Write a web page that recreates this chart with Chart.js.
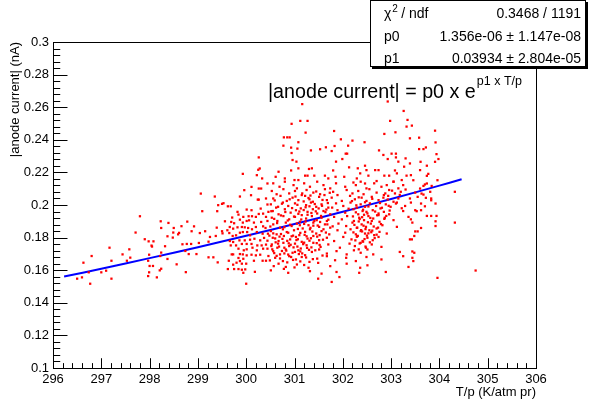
<!DOCTYPE html>
<html>
<head>
<meta charset="utf-8">
<script src="https://cdn.jsdelivr.net/npm/chart.js@4.4.0/dist/chart.umd.min.js"></script>
<style>
    html, body { margin: 0; padding: 0; background: #ffffff; }
    #wrap { width: 589px; height: 401px; position: relative; }
</style>
</head>
<body>
<div id="wrap"><canvas id="anodeChart"></canvas></div>
<script>
// axis ranges
const tpRange = [296, 306];
const currentRange = [0.1, 0.3];

// fitted curve |I| = p0 * exp(p1 * T/p), sampled along the drawn blue line
const fitT = [296.23, 297, 298, 299, 300, 301, 302, 303, 304, 304.46];
const fitI = [0.1561, 0.1609, 0.1674, 0.1741, 0.1811, 0.1883, 0.1959, 0.2037, 0.2119, 0.2158];

// stats box text
const statsRows = [
    ['χ2 / ndf', '0.3468 / 1191'],
    ['p0', '1.356e-06 ± 1.147e-08'],
    ['p1', '0.03934 ± 2.804e-05']
];
const fitLabel = '|anode current| = p0 x e';
const fitLabelSup = 'p1 x T/p';
const xTitle = 'T/p (K/atm pr)';
const yTitle = '|anode current| (nA)';

// measured points [T/p, |I|], sparse low T/p tail
const tailLow = [
    [297.80,.1931],[298.23,.1900],[298.39,.1890],[297.71,.1831],[298.50,.1859],[298.24,.1859],[298.49,.1831],
    [298.61,.1829],[298.59,.1820],[298.66,.1870],[298.37,.1808],[298.48,.1800],[297.90,.1790],[297.98,.1777],
    [298.08,.1777],[298.04,.1751],[298.05,.1745],[297.17,.1738],[297.58,.1728],[297.44,.1697],[297.99,.1695],
    [298.32,.1747],[298.68,.1759],[298.24,.1708],[298.22,.1687],[296.80,.1687],[297.60,.1677],[297.21,.1658],
    [297.53,.1658],[297.97,.1658],[298.37,.1669],[296.63,.1646],[298.56,.1636],[298.00,.1626],[298.07,.1626],
    [298.24,.1609],[298.21,.1599],[297.10,.1597],[297.00,.1587],[296.74,.1587],[297.99,.1587],[297.97,.1564],
    [298.15,.1556],[296.60,.1556],[296.50,.1548],[297.21,.1548],[296.77,.1517]
];

// 298.7 - 300.5
const band299 = [
    [300.26,.2292],[300.28,.2224],[300.25,.2216],[300.22,.2183],[300.33,.2163],[299.93,.2191],[300.44,.2132],
    [300.26,.2101],[300.31,.2101],[300.11,.2111],[299.96,.2091],[299.06,.2070],[299.35,.2052],[299.87,.2052],
    [300.10,.2060],[300.24,.2033],[300.26,.2033],[300.41,.2040],[299.53,.2011],[299.50,.2007],[299.42,.1999],
    [299.62,.1992],[299.68,.1992],[299.40,.1962],[299.09,.1962],[299.82,.1958],[300.01,.1972],[300.11,.1968],
    [300.30,.1978],[300.44,.2003],[300.46,.1958],[300.35,.1947],[300.26,.1945],[299.94,.1927],[300.05,.1931],
    [300.12,.1931],[300.20,.1927],[300.41,.1927],[299.84,.1941],[299.71,.1923],[299.56,.1900],[299.69,.1896],
    [299.75,.1888],[299.87,.1910],[299.93,.1892],[300.01,.1902],[300.06,.1906],[300.16,.1892],[300.31,.1896],
    [300.35,.1869],[300.44,.1902],[298.78,.1898],[298.92,.1869],[299.39,.1861],[299.50,.1839],[299.61,.1845],
    [299.66,.1865],[299.73,.1855],[299.82,.1863],[299.91,.1865],[299.97,.1863],[300.04,.1859],[300.12,.1851],
    [300.20,.1865],[300.40,.1859],[298.87,.1839],[299.04,.1828],[299.15,.1839],[299.25,.1804],[299.37,.1810],
    [299.51,.1826],[299.65,.1828],[299.72,.1810],[299.79,.1814],[299.87,.1830],[299.93,.1834],[300.02,.1834],
    [300.08,.1814],[300.22,.1834],[300.34,.1824],[300.45,.1824],[298.77,.1761],[298.86,.1761],[299.02,.1767],
    [299.22,.1775],[299.66,.1779],[299.73,.1773],[299.86,.1783],[299.97,.1783],[300.08,.1787],[300.17,.1793],
    [300.29,.1783],[300.37,.1798],[300.44,.1781],[299.68,.1752],[299.79,.1752],[299.91,.1761],[300.01,.1761],
    [300.11,.1761],[300.23,.1752],[300.32,.1752],[300.41,.1757],[298.74,.1718],[298.81,.1699],[298.97,.1699],
    [299.22,.1679],[299.32,.1679],[299.41,.1648],[299.64,.1658],[299.70,.1697],[299.73,.1697],[299.84,.1732],
    [299.87,.1699],[299.93,.1697],[299.95,.1722],[300.01,.1728],[300.13,.1738],[300.22,.1722],[300.35,.1732],
    [300.44,.1732],[299.84,.1675],[299.94,.1670],[300.01,.1691],[300.11,.1695],[300.20,.1691],[300.29,.1695],
    [300.46,.1687],[299.73,.1634],[299.80,.1646],[299.87,.1656],[299.91,.1640],[300.00,.1640],[300.16,.1658],
    [300.34,.1658],[300.41,.1658],[299.62,.1607],[299.75,.1607],[299.84,.1607],[299.91,.1603],[299.94,.1584],
    [299.98,.1605],[300.18,.1590],[298.75,.1588],[300.00,.1517]
];

// 300.5 - 301.9, upper outliers
const high301 = [
    [301.16,.2619],[301.12,.2516],[301.27,.2516],[300.94,.2498],[301.82,.2454],[301.23,.2444],[300.78,.2415],
    [300.85,.2415],[300.90,.2415],[301.08,.2385],[300.77,.2364],[300.93,.2352],[301.06,.2346],[301.34,.2335],
    [301.53,.2342],[301.65,.2354],[301.77,.2331],[301.83,.2362],[300.94,.2319],[300.96,.2276],[301.04,.2266],
    [301.86,.2266],[301.30,.2221],[301.36,.2225],[301.08,.2225],[300.93,.2212],[300.67,.2204],[301.80,.2212],
    [300.61,.2173],[301.22,.2180],[301.27,.2180],[301.41,.2180],[301.08,.2153],[300.80,.2163],[301.00,.2153],
    [301.63,.2180],[301.70,.2163],[301.85,.2173]
];

// 301.9 - 303.4, upper outliers
const high303 = [
    [302.93,.2635],[302.98,.2516],[303.26,.2577],[303.34,.2522],[303.32,.2481],[302.86,.2436],[303.09,.2446],
    [301.96,.2403],[302.20,.2395],[302.45,.2385],[302.11,.2364],[302.75,.2335],[302.06,.2315],[302.09,.2315],
    [302.84,.2307],[303.01,.2315],[303.10,.2315],[302.93,.2282],[303.10,.2292],[303.30,.2286],[301.99,.2282],
    [302.46,.2241],[302.13,.2231],[302.31,.2225],[302.49,.2214],[302.67,.2214],[302.74,.2214],[303.15,.2266],
    [303.08,.2212],[302.36,.2194],[302.53,.2180],[302.86,.2180],[302.96,.2180],[303.12,.2194],[303.27,.2235],
    [302.03,.2173],[302.29,.2163],[302.70,.2147],[302.46,.2132],[302.22,.2138],[303.05,.2143],[303.22,.2153],
    [303.32,.2180]
];

// 300.5 - 303.4 main body
const core = [
    [300.56,.2133],[300.69,.2112],[300.80,.2143],[300.98,.2122],[301.05,.2102],[301.20,.2133],[301.32,.2112],
    [301.47,.2143],[301.60,.2122],[301.74,.2102],[301.86,.2133],[302.05,.2112],[302.27,.2122],[302.37,.2143],
    [302.49,.2102],[302.65,.2133],[302.80,.2112],[302.91,.2122],[303.05,.2143],[303.15,.2102],[303.25,.2122],
    [300.53,.2086],[300.63,.2066],[300.77,.2097],[300.89,.2071],[301.01,.2086],[301.15,.2061],[301.25,.2092],
    [301.39,.2076],[301.53,.2066],[301.63,.2097],[301.80,.2081],[301.89,.2061],[302.08,.2092],[302.20,.2071],
    [302.32,.2086],[302.43,.2066],[302.55,.2097],[302.70,.2076],[302.85,.2061],[302.96,.2092],[303.08,.2071],
    [303.20,.2081],
    [300.56,.2040],[300.71,.2056],[300.84,.2025],[300.96,.2045],[301.08,.2030],[301.22,.2056],[301.31,.2035],
    [301.38,.2020],[301.51,.2050],[301.67,.2030],[301.77,.2045],[301.98,.2025],[302.15,.2056],[302.25,.2035],
    [302.39,.2045],[302.49,.2025],[302.60,.2050],[302.74,.2030],[302.84,.2045],[302.94,.2056],[303.05,.2020],
    [303.15,.2040],
    [300.51,.2004],[300.62,.1984],[300.76,.2015],[300.87,.1994],[301.01,.2010],[301.13,.1979],[301.24,.1999],
    [301.34,.2015],[301.45,.1989],[301.56,.2004],[301.70,.1984],[301.86,.2010],[302.01,.1994],[302.16,.2015],
    [302.29,.1984],[302.37,.2004],[302.46,.1989],[302.56,.2010],[302.69,.1994],[302.78,.1979],[302.89,.2004],
    [302.99,.1989],[303.12,.2015],[303.29,.1994],
    [300.55,.1963],[300.67,.1943],[300.80,.1974],[300.92,.1953],[301.03,.1968],[301.15,.1938],[301.27,.1958],
    [301.38,.1974],[301.47,.1948],[301.60,.1963],[301.74,.1943],[301.89,.1968],[302.05,.1953],[302.22,.1974],
    [302.32,.1943],[302.41,.1963],[302.51,.1948],[302.62,.1968],[302.74,.1938],[302.85,.1958],[302.96,.1943],
    [303.25,.1963],
    [300.53,.1922],[300.645,.1902],[300.77,.1932],[300.89,.1912],[301.01,.1927],[301.11,.1897],[301.24,.1917],
    [301.36,.1932],[301.46,.1907],[301.56,.1922],[301.67,.1902],[301.82,.1927],[301.98,.1912],[302.09,.1932],
    [302.23,.1902],[302.34,.1922],[302.44,.1907],[302.53,.1932],[302.63,.1917],[302.76,.1897],[302.87,.1922],
    [303.05,.1907],[303.36,.1927],
    [300.56,.1881],[300.70,.1861],[300.82,.1892],[300.94,.1871],[301.05,.1886],[301.17,.1856],[301.29,.1876],
    [301.39,.1892],[301.51,.1866],[301.63,.1881],[301.74,.1861],[301.91,.1886],[302.07,.1871],[302.20,.1892],
    [302.30,.1861],[302.39,.1881],[302.48,.1866],[302.58,.1886],[302.70,.1856],[302.82,.1876],[303.12,.1866],
    [300.51,.1840],[300.63,.1820],[300.76,.1851],[300.87,.1830],[300.99,.1845],[301.10,.1815],[301.22,.1835],
    [301.32,.1851],[301.45,.1825],[301.56,.1840],[301.72,.1820],[301.89,.1845],[302.05,.1830],[302.16,.1851],
    [302.27,.1820],[302.37,.1840],[302.46,.1825],[302.55,.1845],[302.65,.1815],[302.76,.1835],[302.91,.1825],
    [300.55,.1799],[300.67,.1779],[300.78,.1810],[300.91,.1789],[301.03,.1804],[301.15,.1774],[301.27,.1794],
    [301.39,.1810],[301.51,.1784],[301.67,.1799],[301.82,.1779],[302.01,.1804],[302.18,.1789],[302.30,.1810],
    [302.41,.1779],[302.51,.1799],[302.62,.1784],[302.74,.1804],[303.39,.1789],
    [300.53,.1758],[300.645,.1738],[300.77,.1768],[300.89,.1748],[301.01,.1763],[301.13,.1733],[301.25,.1753],
    [301.39,.1768],[301.54,.1743],[301.70,.1758],[301.94,.1738],[302.14,.1763],[302.25,.1748],[302.37,.1768],
    [302.48,.1738],[302.60,.1758],[302.80,.1743],
    [300.56,.1717],[300.70,.1697],[300.82,.1727],[300.96,.1707],[301.08,.1722],[301.22,.1692],[301.36,.1712],
    [301.51,.1727],[301.67,.1702],[301.87,.1717],[302.08,.1697],[302.23,.1722],[302.37,.1707],[302.51,.1727],
    [302.63,.1697],[303.18,.1712],
    [300.60,.1676],[300.76,.1656],[300.89,.1686],[301.03,.1666],[301.15,.1681],[301.31,.1651],[301.47,.1671],
    [301.67,.1686],[301.84,.1661],[302.07,.1676],[302.27,.1656],[302.49,.1681],[302.80,.1666],[303.25,.1686],
    [300.67,.1640],[300.82,.1620],[301.05,.1635],[301.29,.1615],[301.49,.1645],[301.74,.1625],[302.08,.1640],
    [302.36,.1615],[302.51,.1630],[303.36,.1620],
    [300.51,.1599],[300.87,.1584],[301.32,.1594],[301.56,.1579],[301.87,.1589],[302.34,.1584],[302.89,.1589],
    [301.49,.1548],[301.77,.1528],[301.93,.1558]
];

// crowded spots where dots overlap
const coreFill = [
    [300.59,.2028],[300.74,.2008],[300.90,.2035],[301.06,.2001],[301.19,.2022],[301.29,.2043],[301.42,.2006],
    [301.58,.2031],[301.69,.2012],[300.52,.1962],[300.66,.1989],[300.81,.1957],[300.95,.1981],[301.10,.1960],
    [301.23,.1986],[301.35,.1951],[301.50,.1979],[301.64,.1956],[301.78,.1984],[300.58,.1915],[300.72,.1936],
    [300.86,.1905],[300.99,.1929],[301.14,.1911],[301.27,.1940],[301.41,.1902],[301.55,.1933],[301.70,.1910],
    [300.50,.1868],[300.64,.1889],[300.79,.1864],[300.91,.1879],[301.07,.1853],[301.20,.1884],[301.33,.1860],
    [301.48,.1874],[301.60,.1851],[301.79,.1869],[300.56,.1826],[300.69,.1806],[300.84,.1834],[300.97,.1812],
    [301.12,.1829],[301.25,.1808],[301.37,.1837],[301.52,.1815],[301.65,.1831],[300.61,.1771],[300.75,.1792],
    [300.88,.1765],[301.04,.1785],[301.18,.1760],[301.31,.1781],[301.46,.1766],[301.59,.1787],[300.54,.1728],
    [300.68,.1745],[300.83,.1720],[300.98,.1740],[301.12,.1715],[301.26,.1737],[301.43,.1722],[300.63,.1688],
    [300.79,.1703],[300.93,.1681],[301.09,.1699],[301.24,.1678],
    [302.19,.2024],[302.33,.2047],[302.46,.2017],[302.61,.2038],[302.77,.2012],[302.93,.2034],[302.12,.1977],
    [302.28,.1998],[302.42,.1971],[302.53,.1991],[302.67,.1960],[302.81,.1983],[302.97,.1966],[302.21,.1930],
    [302.35,.1914],[302.44,.1940],[302.57,.1921],[302.71,.1937],[302.86,.1915],[302.24,.1878],[302.33,.1899],
    [302.43,.1873],[302.52,.1894],[302.64,.1868],[302.79,.1883],[302.22,.1832],[302.31,.1810],[302.40,.1838],
    [302.50,.1812],[302.59,.1833],[302.70,.1818],[302.26,.1783],[302.35,.1764],[302.45,.1791],[302.56,.1771],
    [302.33,.1728],[302.47,.1745]
];

// more of the crowded spots
const coreFill2 = [
    [300.48,.1812],[300.60,.1795],[300.72,.1822],[300.85,.1780],[300.94,.1808],[301.07,.1790],[301.21,.1817],
    [301.34,.1796],[301.47,.1806],[300.52,.1748],[300.66,.1763],[300.79,.1738],[300.92,.1756],[301.06,.1745],
    [301.20,.1769],[301.35,.1740],[301.52,.1755],[300.58,.1705],[300.74,.1718],[300.87,.1696],[301.01,.1712],
    [301.16,.1703],[301.30,.1725],[301.58,.1690],[300.49,.1660],[300.70,.1672],[300.85,.1648],[300.97,.1663],
    [301.12,.1654],[301.38,.1668],[300.57,.1625],[300.78,.1608],[301.00,.1617],[301.20,.1632],
    [301.02,.2052],[301.16,.2071],[301.33,.2058],[301.45,.2083],[301.62,.2061],[301.73,.2075],[301.08,.1946],
    [301.19,.1969],[301.31,.1992],[301.44,.1961],[301.57,.1995],[301.66,.1972],[301.11,.1876],[301.23,.1899],
    [301.39,.1873],[301.53,.1896],[301.68,.1881],
    [302.27,.1955],[302.40,.1925],[302.49,.1958],[302.60,.1902],[302.74,.1948],[302.90,.1933],[302.29,.1860],
    [302.38,.1846],[302.47,.1852],[302.61,.1843],[302.73,.1861],[302.29,.1805],[302.42,.1775],[302.53,.1826],
    [302.66,.1797],[302.88,.2071],[303.02,.2088],[303.18,.2062],[303.30,.2095],[302.95,.1995],[303.10,.2009],
    [303.22,.1980]
];

// above 303.4
const tailHigh = [
    [303.43,.2487],[303.91,.2456],[303.39,.2409],[303.58,.2413],[303.92,.2384],[303.58,.2343],[303.67,.2343],
    [303.72,.2353],[303.94,.2312],[303.98,.2282],[303.39,.2255],[303.61,.2265],[303.74,.2241],[303.91,.2265],
    [303.60,.2214],[303.77,.2191],[303.74,.2179],[303.41,.2183],[303.46,.2152],[303.96,.2152],[303.70,.2126],
    [303.74,.2132],[303.67,.2117],[303.60,.2101],[303.84,.2117],[304.32,.2081],[303.50,.2076],[303.63,.2070],
    [303.67,.2064],[303.81,.2081],[303.39,.2040],[303.55,.2050],[303.72,.2044],[303.83,.2040],[303.83,.2029],
    [303.41,.2015],[303.62,.2009],[303.70,.1992],[303.92,.2009],[303.50,.1968],[303.53,.1962],[303.62,.1968],
    [303.74,.1933],[303.83,.1933],[303.94,.1933],[303.41,.1912],[303.44,.1892],[303.62,.1859],[303.92,.1900],
    [303.92,.1871],[304.32,.1892],[303.50,.1838],[303.55,.1838],[303.48,.1810],[303.43,.1789],[303.44,.1715],
    [303.48,.1707],[303.44,.1676],[303.96,.1553],[304.75,.1598],[303.46,.1656]
];

function pairsToPoints(list) {
    return list.map(p => ({ x: p[0], y: p[1] }));
}

const measured = [].concat(
    pairsToPoints(tailLow), pairsToPoints(band299), pairsToPoints(high301),
    pairsToPoints(high303), pairsToPoints(core), pairsToPoints(coreFill),
    pairsToPoints(coreFill2), pairsToPoints(tailHigh)
);
const fitPoints = fitT.map((t, i) => ({ x: t, y: fitI[i] }));

const FONT = '"Liberation Sans", Arial, Helvetica, sans-serif';

// ROOT-like frame, inside ticks, titles, stats box and formula
const rootDecor = {
    id: 'rootDecor',
    afterDatasetsDraw(chart) {
        const ctx = chart.ctx;
        const a = chart.chartArea;
        const xs = chart.scales.x;
        const ys = chart.scales.y;
        ctx.save();
        ctx.strokeStyle = '#000';
        ctx.lineWidth = 1;
        ctx.strokeRect(Math.round(a.left) + 0.5, Math.round(a.top) + 0.5,
            Math.round(a.right - a.left), Math.round(a.bottom - a.top));

        const hLen = (a.bottom - a.top) * 0.03;
        const vLen = (a.right - a.left) * 0.03;
        ctx.beginPath();
        for (let i = 0; i <= 50; i++) {
            const v = tpRange[0] + i * 0.2;
            const px = Math.round(xs.getPixelForValue(v)) + 0.5;
            const len = i % 5 === 0 ? hLen : hLen / 2;
            ctx.moveTo(px, a.bottom);
            ctx.lineTo(px, a.bottom - len);
        }
        for (let i = 0; i <= 50; i++) {
            const v = currentRange[0] + i * 0.004;
            const py = Math.round(ys.getPixelForValue(v)) + 0.5;
            const len = i % 5 === 0 ? vLen : vLen / 2;
            ctx.moveTo(a.left, py);
            ctx.lineTo(a.left + len, py);
        }
        ctx.stroke();
        ctx.restore();
    },
    afterDraw(chart) {
        const ctx = chart.ctx;
        const a = chart.chartArea;
        ctx.save();
        ctx.fillStyle = '#000';

        // axis titles
        ctx.font = '13px ' + FONT;
        ctx.textAlign = 'right';
        ctx.textBaseline = 'alphabetic';
        ctx.fillText(xTitle, a.right, 396);
        ctx.save();
        ctx.translate(19, a.top);
        ctx.rotate(-Math.PI / 2);
        ctx.fillText(yTitle, 0, 0);
        ctx.restore();

        // fit formula
        ctx.textAlign = 'left';
        ctx.font = '19.7px ' + FONT;
        const fx = 268, fy = 98;
        ctx.fillText(fitLabel, fx, fy);
        const w = ctx.measureText(fitLabel).width;
        ctx.font = '12.5px ' + FONT;
        ctx.fillText(fitLabelSup, fx + w + 1, fy - 13);

        // stats box
        const bx = 370, by = 0, bw = 216, bh = 67;
        ctx.fillStyle = '#000';
        ctx.fillRect(bx + 2, by + bh, bw, 2);
        ctx.fillRect(bx + bw, by + 2, 2, bh);
        ctx.fillStyle = '#fff';
        ctx.fillRect(bx, by, bw, bh);
        ctx.strokeStyle = '#000';
        ctx.lineWidth = 1;
        ctx.strokeRect(bx + 0.5, by + 0.5, bw - 1, bh - 1);

        ctx.fillStyle = '#000';
        ctx.font = '14px ' + FONT;
        const rowsY = [18, 41, 63];
        statsRows.forEach((r, i) => {
            ctx.textAlign = 'left';
            if (i === 0) {
                ctx.fillText('χ', bx + 14, rowsY[i]);
                const cw = ctx.measureText('χ').width;
                ctx.font = '10px ' + FONT;
                ctx.fillText('2', bx + 14 + cw + 1, rowsY[i] - 6);
                ctx.font = '14px ' + FONT;
                ctx.fillText(' / ndf', bx + 14 + cw + 6, rowsY[i]);
            } else {
                ctx.fillText(r[0], bx + 14, rowsY[i]);
            }
            ctx.textAlign = 'right';
            ctx.fillText(r[1], bx + bw - 5, rowsY[i]);
        });
        ctx.restore();
    }
};

new Chart(document.getElementById('anodeChart'), {
    type: 'scatter',
    data: {
        datasets: [
            {
                label: 'data',
                data: measured,
                backgroundColor: '#ff0000',
                borderWidth: 0,
                pointRadius: 1.6,
                pointStyle: 'rect'
            },
            {
                type: 'line',
                label: 'fit',
                data: fitPoints,
                borderColor: '#0000ff',
                borderWidth: 2,
                pointRadius: 0,
                fill: false,
                tension: 0.4
            }
        ]
    },
    options: {
        responsive: true,
        maintainAspectRatio: false,
        animation: false,
        events: [],
        layout: {
            autoPadding: false,
            padding: { top: 42, right: 53, bottom: 0, left: 0 }
        },
        plugins: {
            legend: { display: false },
            tooltip: { enabled: false }
        },
        scales: {
            x: {
                type: 'linear',
                min: tpRange[0],
                max: tpRange[1],
                afterFit(s) { s.height = 33; },
                grid: { display: false, drawTicks: false },
                border: { display: false },
                ticks: {
                    stepSize: 1,
                    padding: 4,
                    color: '#000',
                    font: { family: FONT, size: 13 },
                    maxRotation: 0,
                    autoSkip: false
                }
            },
            y: {
                type: 'linear',
                min: currentRange[0],
                max: currentRange[1],
                afterFit(s) { s.width = 53; },
                grid: { display: false, drawTicks: false },
                border: { display: false },
                ticks: {
                    stepSize: 0.02,
                    padding: 4,
                    color: '#000',
                    font: { family: FONT, size: 13 },
                    callback: v => String(+v.toFixed(2))
                }
            }
        }
    },
    plugins: [rootDecor]
});
</script>
</body>
</html>
